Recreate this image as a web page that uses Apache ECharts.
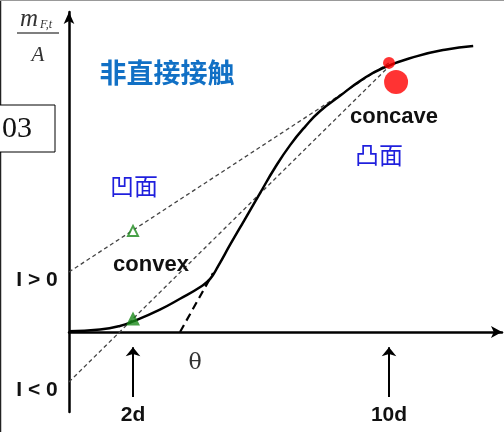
<!DOCTYPE html>
<html>
<head>
<meta charset="utf-8">
<script src="https://cdn.jsdelivr.net/npm/echarts@6/dist/echarts.min.js"></script>
<style>
html, body { margin: 0; padding: 0; background: #fff; }
#main { width: 504px; height: 432px; }
</style>
</head>
<body>
<div id="main"></div>
<script>
// S-shaped growth curve (x in days)
var curveX = [0, 0.97, 1.59, 2, 2.84, 3.47, 4.09, 4.41, 4.66, 5.03, 5.5, 5.97, 6.44, 6.91, 7.38, 7.84, 8.47, 9.09, 9.81, 10.88, 11.75, 12.63];
var curveY = [0.02, 0.08, 0.19, 0.33, 0.7, 1.04, 1.4, 1.66, 2.06, 2.72, 3.53, 4.34, 5.14, 5.84, 6.42, 6.9, 7.38, 7.84, 8.25, 8.62, 8.82, 8.94];
var upperChord = [[0, 1.875], [10, 8.41]];
var lowerChord = [[0, -1.56], [10, 8.3]];
var tangentLine = [[3.47, 0], [4.5, 1.84]];
var greenFilled = [[2, 0.42]];
var greenOpen = [[2, 3.16]];
var redSmall = [[10, 8.41]];
var redBig = [[10.22, 7.81]];
var tickDays = [2, 10];
var tickLabels = ['2d', '10d'];
var arrowFrom = -2.03, arrowTo = -0.48;

var chart = echarts.init(document.getElementById('main'), null);
var option;

var curveData = curveX.map(function (x, i) { return [x, curveY[i]]; });

function txt(x, y, text, font, fill) {
    return {
        type: 'text', x: x, y: y, z: 100,
        style: {
            text: text, font: font, fill: fill,
            textAlign: 'center', textVerticalAlign: 'middle',
            align: 'center', verticalAlign: 'middle'
        }
    };
}

var boldFont = 'bold 22px "Liberation Sans", Arial, sans-serif';
var cjkBlue = '24px "Noto Sans CJK SC", sans-serif';

option = {
    animation: false,
    grid: { left: 69, right: 2, top: 12, bottom: 20 },
    xAxis: {
        type: 'value',
        min: 0,
        max: 13.53,
        axisLine: {
            show: true, onZero: true,
            symbol: ['none', 'arrow'], symbolSize: [9, 11],
            lineStyle: { color: '#000', width: 2.5 }
        },
        axisTick: { show: false },
        axisLabel: { show: false },
        splitLine: { show: false }
    },
    yAxis: {
        type: 'value',
        min: -2.5,
        max: 10,
        axisLine: {
            show: true,
            symbol: ['none', 'arrow'], symbolSize: [8, 12],
            lineStyle: { color: '#000', width: 2.5 }
        },
        axisTick: { show: false },
        axisLabel: { show: false },
        splitLine: { show: false }
    },
    series: [
        {
            type: 'line', data: upperChord, showSymbol: false, silent: true,
            lineStyle: { color: '#444', width: 1.3, type: [4, 3] }
        },
        {
            type: 'line', data: lowerChord, showSymbol: false, silent: true,
            lineStyle: { color: '#444', width: 1.3, type: [4, 3] }
        },
        {
            type: 'line', data: tangentLine, showSymbol: false, silent: true,
            lineStyle: { color: '#000', width: 2.2, type: [8, 5] }
        },
        {
            type: 'line', data: curveData, smooth: 0.5,
            showSymbol: false, silent: true,
            lineStyle: { color: '#000', width: 2.5 }
        },
        {
            type: 'scatter', data: greenFilled, symbol: 'triangle', symbolSize: 14, z: 5,
            itemStyle: { color: '#1a8a1a' }
        },
        {
            type: 'scatter', data: greenOpen, symbol: 'triangle', symbolSize: 10, z: 5,
            itemStyle: { color: '#fff', borderColor: '#1a8a1a', borderWidth: 2 }
        },
        {
            type: 'scatter', data: redSmall, symbolSize: 12, z: 5,
            itemStyle: { color: '#ff0000' }
        },
        {
            type: 'scatter', data: redBig, symbolSize: 24, z: 5,
            itemStyle: { color: '#ff0000' }
        },
        {
            type: 'line', data: [], silent: true,
            markLine: {
                silent: true,
                symbol: ['none', 'arrow'],
                symbolSize: [11, 9],
                lineStyle: { color: '#000', width: 2, type: 'solid' },
                label: {
                    show: true, position: 'start', formatter: '{b}', distance: 8,
                    fontSize: 21, fontWeight: 'bold',
                    fontFamily: '"Liberation Sans", Arial, sans-serif', color: '#111'
                },
                data: tickDays.map(function (d, i) {
                    return [
                        { coord: [d, arrowFrom], name: tickLabels[i] },
                        { coord: [d, arrowTo] }
                    ];
                })
            }
        }
    ],
    graphic: [
        { type: 'line', z: 100, shape: { x1: 0.5, y1: 0, x2: 0.5, y2: 432 }, style: { stroke: '#222', lineWidth: 1.5 } },
        { type: 'line', z: 100, shape: { x1: 0, y1: 0.5, x2: 504, y2: 0.5 }, style: { stroke: '#999', lineWidth: 1 } },
        { type: 'rect', z: 101, shape: { x: -2, y: 105, width: 57, height: 47 }, style: { fill: '#fff', stroke: '#000', lineWidth: 1 } },
        {
            type: 'text', x: 2, y: 129, z: 102,
            style: { text: '03', font: '30px "Liberation Serif", serif', fill: '#111', textAlign: 'left', textVerticalAlign: 'middle', align: 'left', verticalAlign: 'middle' }
        },
        txt(29, 19, 'm', 'italic 25px "Liberation Serif", serif', '#333'),
        txt(46, 25, 'F,t', 'italic 12px "Liberation Serif", serif', '#333'),
        { type: 'line', z: 100, shape: { x1: 17, y1: 33, x2: 59, y2: 33 }, style: { stroke: '#555', lineWidth: 1.5 } },
        txt(38, 55, 'A', 'italic 21px "Liberation Serif", serif', '#333'),
        txt(167, 73, '非直接接触', 'bold 27px "Noto Sans CJK SC", sans-serif', '#1170c5'),
        txt(134, 186, '凹面', cjkBlue, '#1f1fdd'),
        txt(379, 155, '凸面', cjkBlue, '#1f1fdd'),
        txt(151, 265, 'convex', boldFont, '#111'),
        txt(394, 117, 'concave', boldFont, '#111'),
        txt(37, 280, 'I > 0', 'bold 21px "Liberation Sans", Arial, sans-serif', '#111'),
        txt(37, 390, 'I < 0', 'bold 21px "Liberation Sans", Arial, sans-serif', '#111'),
        txt(195, 363, 'θ', '22px "DejaVu Serif", serif', '#333')
    ]
};

if (option && typeof option === 'object') {
    chart.setOption(option);
}

window.addEventListener('resize', function () {
    chart.resize();
});
</script>
</body>
</html>
